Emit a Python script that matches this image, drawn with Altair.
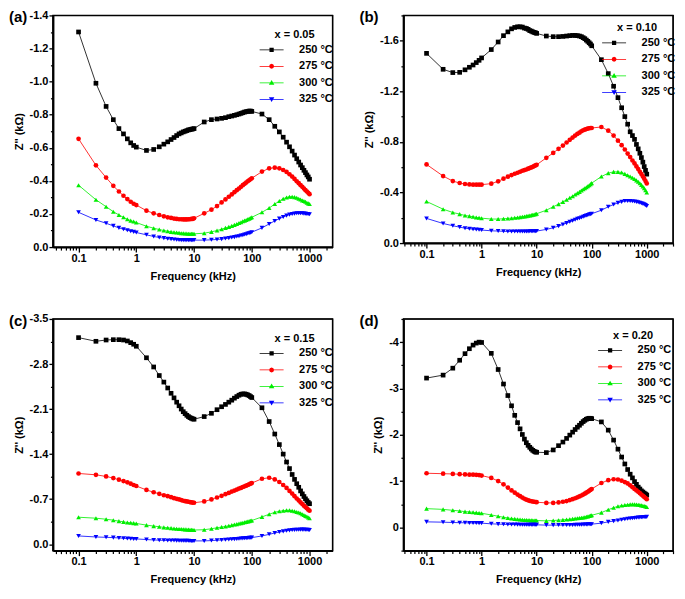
import altair as alt
import pandas as pd

FONT = "Liberation Sans"
INK = "#000000"

freq = [0.1, 0.2, 0.3, 0.4, 0.5, 0.6, 0.7, 0.8, 0.9, 1.0,
        1.5, 2, 2.5, 3, 3.5, 4, 4.5, 5, 5.5, 6, 6.5, 7, 7.5, 8, 8.5, 9, 9.5, 10,
        15, 20, 25, 30, 35, 40, 45, 50, 55, 60, 65, 70, 75, 80, 85, 90, 95, 100,
        150, 200, 250, 300, 350, 400, 450, 500, 550, 600, 650, 700, 750, 800, 850, 900, 950, 1000]

temps = ["250 °C", "275 °C", "300 °C", "325 °C"]

a_250 = [-1.30, -0.99, -0.85, -0.77, -0.716, -0.684, -0.654, -0.63, -0.614, -0.604,
         -0.584, -0.59, -0.606, -0.622, -0.636, -0.65, -0.662, -0.674, -0.684, -0.69, -0.696, -0.70, -0.704, -0.708, -0.71, -0.712, -0.714, -0.716,
         -0.756, -0.77, -0.774, -0.778, -0.782, -0.788, -0.792, -0.796, -0.80, -0.804, -0.808, -0.812, -0.816, -0.818, -0.82, -0.822, -0.822, -0.82,
         -0.804, -0.77, -0.73, -0.696, -0.664, -0.634, -0.606, -0.58, -0.556, -0.534, -0.514, -0.496, -0.48, -0.464, -0.45, -0.436, -0.424, -0.41]
a_275 = [-0.654, -0.494, -0.42, -0.37, -0.336, -0.31, -0.29, -0.274, -0.262, -0.254,
         -0.22, -0.204, -0.194, -0.186, -0.18, -0.176, -0.172, -0.17, -0.168, -0.168, -0.167, -0.167, -0.167, -0.168, -0.168, -0.17, -0.17, -0.174,
         -0.204, -0.226, -0.248, -0.27, -0.288, -0.304, -0.318, -0.332, -0.344, -0.354, -0.364, -0.374, -0.382, -0.39, -0.398, -0.404, -0.41, -0.416,
         -0.456, -0.476, -0.48, -0.476, -0.466, -0.454, -0.44, -0.426, -0.412, -0.398, -0.386, -0.374, -0.364, -0.354, -0.344, -0.336, -0.328, -0.32]
a_300 = [-0.374, -0.286, -0.244, -0.214, -0.194, -0.18, -0.168, -0.16, -0.154, -0.148,
         -0.126, -0.114, -0.106, -0.10, -0.096, -0.092, -0.09, -0.088, -0.086, -0.084, -0.083, -0.082, -0.082, -0.081, -0.081, -0.08, -0.08, -0.08,
         -0.084, -0.092, -0.10, -0.108, -0.116, -0.122, -0.128, -0.134, -0.14, -0.146, -0.15, -0.156, -0.16, -0.164, -0.168, -0.172, -0.176, -0.18,
         -0.21, -0.236, -0.26, -0.278, -0.292, -0.30, -0.304, -0.304, -0.302, -0.298, -0.292, -0.288, -0.282, -0.278, -0.274, -0.268, -0.264, -0.26]
a_325 = [-0.21, -0.164, -0.144, -0.128, -0.116, -0.108, -0.102, -0.096, -0.092, -0.088,
         -0.074, -0.064, -0.058, -0.054, -0.05, -0.048, -0.046, -0.044, -0.043, -0.042, -0.042, -0.042, -0.042, -0.042, -0.042, -0.042, -0.042, -0.042,
         -0.042, -0.044, -0.046, -0.048, -0.052, -0.054, -0.058, -0.06, -0.064, -0.066, -0.07, -0.072, -0.076, -0.078, -0.082, -0.084, -0.086, -0.09,
         -0.116, -0.14, -0.158, -0.172, -0.182, -0.19, -0.196, -0.20, -0.202, -0.204, -0.204, -0.204, -0.204, -0.202, -0.202, -0.20, -0.20, -0.198]

b_250 = [-1.50, -1.374, -1.348, -1.35, -1.37, -1.39, -1.408, -1.427, -1.445, -1.464,
         -1.53, -1.59, -1.64, -1.67, -1.694, -1.705, -1.71, -1.71, -1.708, -1.70, -1.697, -1.69, -1.68, -1.676, -1.67, -1.666, -1.663, -1.658,
         -1.637, -1.632, -1.632, -1.634, -1.637, -1.64, -1.642, -1.642, -1.64, -1.637, -1.632, -1.624, -1.616, -1.605, -1.595, -1.584, -1.574, -1.56,
         -1.45, -1.34, -1.24, -1.15, -1.07, -1.00, -0.94, -0.88, -0.85, -0.82, -0.78, -0.745, -0.71, -0.676, -0.64, -0.605, -0.575, -0.545]
b_275 = [-0.622, -0.53, -0.49, -0.475, -0.467, -0.464, -0.462, -0.462, -0.462, -0.462,
         -0.47, -0.488, -0.509, -0.525, -0.538, -0.548, -0.556, -0.564, -0.572, -0.577, -0.582, -0.588, -0.593, -0.598, -0.603, -0.609, -0.614, -0.619,
         -0.674, -0.713, -0.745, -0.771, -0.795, -0.816, -0.834, -0.85, -0.863, -0.873, -0.884, -0.892, -0.897, -0.902, -0.905, -0.908, -0.91, -0.91,
         -0.918, -0.889, -0.85, -0.81, -0.774, -0.74, -0.708, -0.68, -0.653, -0.63, -0.606, -0.585, -0.564, -0.546, -0.527, -0.509, -0.49, -0.472]
b_300 = [-0.329, -0.268, -0.242, -0.229, -0.218, -0.213, -0.208, -0.203, -0.20, -0.197,
         -0.19, -0.19, -0.192, -0.195, -0.197, -0.20, -0.203, -0.205, -0.208, -0.21, -0.213, -0.216, -0.218, -0.221, -0.224, -0.226, -0.229, -0.232,
         -0.26, -0.287, -0.308, -0.326, -0.342, -0.358, -0.371, -0.384, -0.395, -0.405, -0.416, -0.426, -0.434, -0.442, -0.45, -0.458, -0.466, -0.474,
         -0.526, -0.553, -0.563, -0.563, -0.558, -0.547, -0.537, -0.527, -0.517, -0.507, -0.496, -0.485, -0.473, -0.46, -0.447, -0.433, -0.418, -0.40]
b_325 = [-0.195, -0.155, -0.137, -0.126, -0.118, -0.113, -0.11, -0.108, -0.105, -0.103,
         -0.097, -0.095, -0.093, -0.092, -0.092, -0.092, -0.092, -0.092, -0.092, -0.092, -0.092, -0.092, -0.093, -0.093, -0.093, -0.094, -0.094, -0.095,
         -0.108, -0.121, -0.134, -0.147, -0.158, -0.168, -0.176, -0.184, -0.192, -0.197, -0.203, -0.208, -0.213, -0.218, -0.221, -0.226, -0.229, -0.232,
         -0.26, -0.287, -0.305, -0.318, -0.326, -0.332, -0.333, -0.333, -0.331, -0.329, -0.326, -0.323, -0.319, -0.315, -0.311, -0.306, -0.30, -0.293]

c_250 = [-3.21, -3.153, -3.173, -3.178, -3.178, -3.173, -3.158, -3.132, -3.107, -3.076,
         -2.897, -2.754, -2.621, -2.519, -2.427, -2.345, -2.274, -2.207, -2.151, -2.10, -2.059, -2.029, -2.003, -1.983, -1.967, -1.957, -1.947, -1.942,
         -1.983, -2.034, -2.09, -2.136, -2.172, -2.207, -2.238, -2.269, -2.294, -2.315, -2.33, -2.335, -2.335, -2.33, -2.32, -2.31, -2.294, -2.279,
         -2.12, -1.906, -1.712, -1.548, -1.40, -1.277, -1.175, -1.083, -1.007, -0.94, -0.884, -0.828, -0.782, -0.741, -0.705, -0.675, -0.649, -0.629]
c_275 = [-1.099, -1.078, -1.053, -1.027, -1.002, -0.981, -0.961, -0.94, -0.92, -0.904,
         -0.843, -0.807, -0.782, -0.761, -0.746, -0.731, -0.715, -0.705, -0.695, -0.685, -0.675, -0.669, -0.664, -0.659, -0.654, -0.649, -0.647, -0.644,
         -0.664, -0.695, -0.726, -0.751, -0.777, -0.797, -0.818, -0.833, -0.848, -0.864, -0.874, -0.889, -0.899, -0.91, -0.92, -0.93, -0.94, -0.95,
         -1.017, -1.032, -1.007, -0.966, -0.92, -0.874, -0.828, -0.787, -0.746, -0.71, -0.68, -0.649, -0.623, -0.598, -0.577, -0.557, -0.537, -0.521]
c_300 = [-0.419, -0.404, -0.388, -0.373, -0.358, -0.347, -0.337, -0.332, -0.327, -0.322,
         -0.296, -0.281, -0.271, -0.261, -0.255, -0.25, -0.245, -0.24, -0.237, -0.235, -0.232, -0.23, -0.228, -0.226, -0.224, -0.222, -0.221, -0.22,
         -0.225, -0.24, -0.255, -0.266, -0.276, -0.286, -0.296, -0.307, -0.312, -0.322, -0.327, -0.332, -0.342, -0.347, -0.353, -0.358, -0.363, -0.368,
         -0.424, -0.465, -0.496, -0.511, -0.521, -0.526, -0.526, -0.521, -0.511, -0.501, -0.491, -0.48, -0.465, -0.455, -0.439, -0.429, -0.414, -0.404]
c_325 = [-0.128, -0.112, -0.107, -0.102, -0.097, -0.092, -0.087, -0.085, -0.082, -0.082,
         -0.072, -0.066, -0.062, -0.06, -0.058, -0.057, -0.056, -0.055, -0.054, -0.053, -0.053, -0.052, -0.052, -0.052, -0.051, -0.051, -0.051, -0.051,
         -0.051, -0.056, -0.061, -0.066, -0.07, -0.073, -0.076, -0.079, -0.082, -0.085, -0.087, -0.09, -0.092, -0.094, -0.096, -0.098, -0.10, -0.102,
         -0.128, -0.153, -0.174, -0.189, -0.199, -0.21, -0.215, -0.22, -0.222, -0.224, -0.225, -0.226, -0.226, -0.226, -0.225, -0.224, -0.222, -0.22]

d_250 = [-3.224, -3.288, -3.438, -3.609, -3.751, -3.858, -3.936, -3.979, -4.0, -3.993,
         -3.758, -3.409, -3.096, -2.847, -2.626, -2.42, -2.263, -2.128, -2.007, -1.907, -1.829, -1.772, -1.73, -1.694, -1.665, -1.644, -1.63, -1.623,
         -1.616, -1.673, -1.765, -1.843, -1.922, -1.993, -2.057, -2.114, -2.164, -2.206, -2.249, -2.285, -2.313, -2.335, -2.349, -2.356, -2.356, -2.349,
         -2.278, -2.10, -1.886, -1.69, -1.52, -1.37, -1.25, -1.15, -1.07, -0.99, -0.93, -0.87, -0.83, -0.79, -0.765, -0.74, -0.72, -0.70]
d_275 = [-1.17, -1.16, -1.155, -1.15, -1.145, -1.14, -1.14, -1.135, -1.13, -1.12,
         -1.07, -1.0, -0.93, -0.86, -0.80, -0.75, -0.71, -0.675, -0.645, -0.62, -0.60, -0.585, -0.575, -0.565, -0.56, -0.555, -0.55, -0.545,
         -0.53, -0.53, -0.54, -0.555, -0.57, -0.59, -0.61, -0.63, -0.65, -0.67, -0.69, -0.71, -0.73, -0.75, -0.77, -0.79, -0.81, -0.83,
         -0.96, -1.02, -1.04, -1.035, -1.01, -0.98, -0.95, -0.91, -0.87, -0.83, -0.80, -0.77, -0.74, -0.71, -0.685, -0.66, -0.635, -0.61]
d_300 = [-0.406, -0.39, -0.37, -0.356, -0.342, -0.335, -0.327, -0.32, -0.313, -0.306,
         -0.27, -0.242, -0.22, -0.206, -0.192, -0.185, -0.178, -0.172, -0.167, -0.163, -0.16, -0.157, -0.155, -0.153, -0.152, -0.151, -0.15, -0.15,
         -0.142, -0.15, -0.157, -0.164, -0.171, -0.178, -0.185, -0.192, -0.198, -0.204, -0.21, -0.216, -0.222, -0.23, -0.238, -0.246, -0.255, -0.263,
         -0.32, -0.384, -0.427, -0.456, -0.472, -0.484, -0.492, -0.498, -0.50, -0.498, -0.494, -0.49, -0.484, -0.477, -0.47, -0.463, -0.452, -0.441]
d_325 = [-0.121, -0.114, -0.107, -0.103, -0.10, -0.098, -0.096, -0.095, -0.094, -0.093,
         -0.078, -0.072, -0.068, -0.065, -0.063, -0.062, -0.061, -0.06, -0.059, -0.058, -0.058, -0.057, -0.057, -0.057, -0.057, -0.057, -0.057, -0.057,
         -0.05, -0.05, -0.051, -0.052, -0.053, -0.054, -0.055, -0.056, -0.057, -0.058, -0.06, -0.062, -0.063, -0.065, -0.066, -0.068, -0.07, -0.071,
         -0.093, -0.121, -0.137, -0.15, -0.165, -0.178, -0.186, -0.192, -0.198, -0.206, -0.21, -0.213, -0.216, -0.22, -0.222, -0.224, -0.226, -0.228]

x_major = [0.1, 1, 10, 100, 1000]
x_minor_ac = [0.04, 0.05, 0.06, 0.07, 0.08, 0.09, 0.2, 0.3, 0.4, 0.5, 0.6, 0.7, 0.8, 0.9,
              2, 3, 4, 5, 6, 7, 8, 9, 20, 30, 40, 50, 60, 70, 80, 90,
              200, 300, 400, 500, 600, 700, 800, 900, 2000]
x_minor_bd = x_minor_ac + [3000]
y_major_a = [-1.4, -1.2, -1.0, -0.8, -0.6, -0.4, -0.2, 0.0]
y_minor_a = [-1.3, -1.1, -0.9, -0.7, -0.5, -0.3, -0.1]
y_major_b = [-1.6, -1.2, -0.8, -0.4, 0.0]
y_minor_b = [-1.8, -1.4, -1.0, -0.6, -0.2]
y_major_c = [-3.5, -2.8, -2.1, -1.4, -0.7, 0.0]
y_minor_c = [-3.15, -2.45, -1.75, -1.05, -0.35]
y_major_d = [-4, -3, -2, -1, 0]
y_minor_d = [-4.5, -3.5, -2.5, -1.5, -0.5, 0.5]

colors = ["#000000", "#ff0000", "#00ee00", "#0000ff"]
shapes = ["square", "circle", "triangle-up", "triangle-down"]

# legend symbols: marker with a short line through it
LINE = "M-4.8,-0.16H4.8V0.16H-4.8Z"
leg_paths = [
    LINE + "M-0.85,-0.85H0.85V0.85H-0.85Z",
    LINE + "M-1,0L-0.7,-0.7L0,-1L0.7,-0.7L1,0L0.7,0.7L0,1L-0.7,0.7Z",
    LINE + "M0,-1.1L1.1,0.8H-1.1Z",
    LINE + "M-1.1,-0.8H1.1L0,1.1Z",
]


def long_df(series):
    rows = []
    for t, vals in zip(temps, series):
        for f, v in zip(freq, vals):
            rows.append({"f": f, "z": v, "T": t})
    return pd.DataFrame(rows)


def panel(series, letter, xtitle, xdom, xminor, ydom, ymajor, yminor, yfmt,
          w, h, legx, legy, letx):
    df = long_df(series)
    xs = alt.Scale(type="log", domain=xdom, nice=False)
    ys = alt.Scale(domain=ydom, reverse=True, nice=False, zero=False)
    cscale = alt.Scale(domain=temps, range=colors)
    x_major_axis = alt.Axis(
        orient="bottom", values=x_major, labelExpr="toString(datum.value)", tickSize=5,
        title="Frequency (kHz)", labelOverlap=False, labelFlush=False,
        labelPadding=0, titlePadding=7, grid=False,
        domainColor=INK, domainWidth=2, tickColor=INK, tickWidth=1.3,
    )
    x_minor_axis = alt.Axis(
        orient="bottom", values=xminor, tickSize=3, labels=False, title=None,
        domain=False, grid=False, tickColor=INK, tickWidth=1.2,
    )
    y_major_axis = alt.Axis(
        orient="left", values=ymajor,
        labelExpr=f"replace(format(datum.value, '{yfmt}'), '\u2212', '-')",
        tickSize=4, title="Z'' (kΩ)", labelOverlap=False, labelFlush=False,
        labelPadding=1, titlePadding=5, grid=False,
        domainColor=INK, domainWidth=2, tickColor=INK, tickWidth=1.3,
    )
    y_minor_axis = alt.Axis(
        orient="left", values=yminor, tickSize=2.5, labels=False, title=None,
        domain=False, grid=False, tickColor=INK, tickWidth=1.2,
    )
    legend = alt.Legend(
        title=xtitle, orient="none", legendX=legx, legendY=legy,
        titleAnchor="middle", titleFontSize=11, titleFontWeight="bold", titleFont=FONT,
        titleColor=INK, titlePadding=4,
        labelFontSize=11, labelFontWeight="bold", labelFont=FONT, labelColor=INK,
        symbolSize=25, symbolOffset=9.5, labelOffset=22, symbolStrokeWidth=0,
        rowPadding=4.5, padding=0,
    )
    lines = alt.Chart(df).mark_line(strokeWidth=0.8).encode(
        x=alt.X("f:Q", scale=xs, axis=x_minor_axis),
        y=alt.Y("z:Q", scale=ys, axis=y_minor_axis),
        color=alt.Color("T:N", scale=cscale, legend=None),
    )
    points = alt.Chart(df).mark_point(filled=True, size=22, opacity=1).encode(
        x=alt.X("f:Q", scale=xs, axis=x_major_axis),
        y=alt.Y("z:Q", scale=ys, axis=y_major_axis),
        color=alt.Color("T:N", scale=cscale, legend=None),
        shape=alt.Shape("T:N", scale=alt.Scale(domain=temps, range=shapes), legend=None),
    )
    # legend-only layer (no rows drawn): supplies the line+marker legend symbols
    legend_layer = alt.Chart(df).mark_point(filled=True, size=25, opacity=1).encode(
        x=alt.X("f:Q", scale=xs, axis=None),
        y=alt.Y("z:Q", scale=ys, axis=None),
        color=alt.Color("T:N", scale=cscale, legend=legend),
        shape=alt.Shape("T:N", scale=alt.Scale(domain=temps, range=leg_paths), legend=legend),
    ).transform_filter("false")
    deco = pd.DataFrame({"t": [letter]})
    label = alt.Chart(deco).mark_text(
        align="left", baseline="middle", fontSize=15, fontWeight="bold", font=FONT, color=INK
    ).encode(text="t:N", x=alt.value(letx), y=alt.value(2))
    frame = alt.Chart(deco).mark_rect(filled=False, stroke=INK, strokeWidth=1.3).encode(
        x=alt.value(0), x2=alt.value(w), y=alt.value(0), y2=alt.value(h)
    )
    return alt.layer(frame, lines, points, legend_layer, label).resolve_scale(
        color="independent", shape="independent"
    ).resolve_axis(x="independent", y="independent").properties(width=w, height=h)


pa = panel([a_250, a_275, a_300, a_325], "(a)", "x = 0.05", [0.036, 2500], x_minor_ac,
           [-1.4, 0], y_major_a, y_minor_a, ".1f", 280, 232, 204, 14, -44)
pb = panel([b_250, b_275, b_300, b_325], "(b)", "x = 0.10", [0.038, 3000], x_minor_bd,
           [-1.8, 0], y_major_b, y_minor_b, ".1f", 270, 228, 196, 7, -44)
pc = panel([c_250, c_275, c_300, c_325], "(c)", "x = 0.15", [0.036, 2500], x_minor_ac,
           [-3.5, 0.1], y_major_c, y_minor_c, ".1f", 280, 232, 204, 14, -44)
pd_ = panel([d_250, d_275, d_300, d_325], "(d)", "x = 0.20", [0.038, 3000], x_minor_bd,
            [-4.5, 0.5], y_major_d, y_minor_d, "d", 270, 232, 192, 11, -44)

chart = alt.concat(pa, pb, pc, pd_, columns=2, spacing={"row": 30, "column": 24}).properties(
    padding=0, background="#ffffff"
).configure_view(
    stroke=INK, strokeWidth=1.3
).configure_axis(
    labelFont=FONT, titleFont=FONT, labelFontSize=11, titleFontSize=11,
    labelFontWeight="bold", titleFontWeight="bold", labelColor=INK, titleColor=INK,
)

chart.save("out.html", embed_options={"renderer": "svg", "actions": False})
